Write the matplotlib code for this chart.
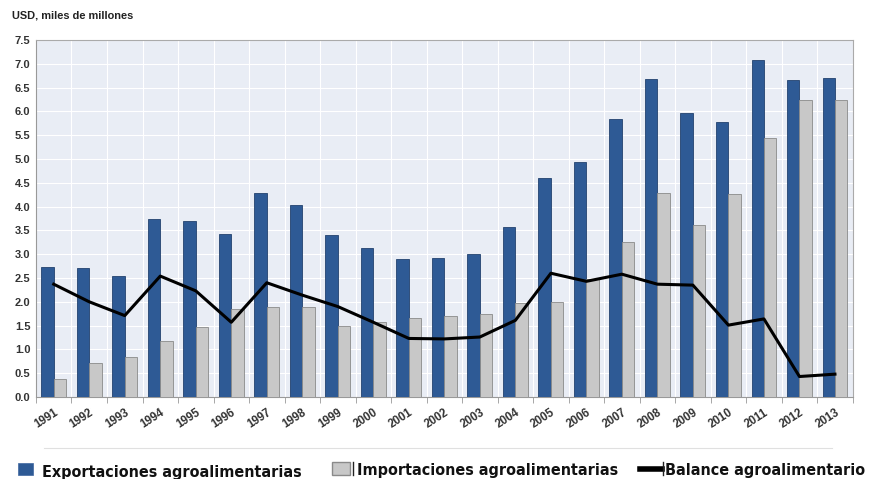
import numpy as np
import matplotlib.pyplot as plt
from matplotlib.lines import Line2D
from matplotlib.patches import Rectangle
from matplotlib import font_manager

years = [str(y) for y in range(1991, 2014)]
exportaciones = [2.73, 2.72, 2.55, 3.73, 3.69, 3.42, 4.29, 4.03, 3.40, 3.13, 2.89, 2.91,
                 3.00, 3.58, 4.60, 4.93, 5.83, 6.68, 5.97, 5.77, 7.09, 6.65, 6.70]
importaciones = [0.38, 0.72, 0.85, 1.18, 1.47, 1.84, 1.89, 1.89, 1.50, 1.57, 1.66, 1.70,
                 1.74, 1.97, 2.00, 2.47, 3.25, 4.28, 3.62, 4.26, 5.45, 6.23, 6.23]
balance = [2.37, 2.00, 1.71, 2.54, 2.23, 1.57, 2.40, 2.14, 1.90, 1.57, 1.23, 1.22,
           1.26, 1.61, 2.60, 2.43, 2.58, 2.37, 2.35, 1.51, 1.64, 0.43, 0.48]
labels = ["Exportaciones agroalimentarias", "Importaciones agroalimentarias", "Balance agroalimentario"]

blue = "#2E5A95"
grey = "#C8C8C8"

# condensed font for the legend if one is installed
names = {f.name for f in font_manager.fontManager.ttflist}
if "Liberation Sans Narrow" in names:
    leg_font = {"family": "Liberation Sans Narrow", "weight": "bold", "size": 14.8}
else:
    leg_font = {"family": "DejaVu Sans", "weight": "bold", "stretch": "condensed", "size": 11.5}

plt.rcParams["font.family"] = ["Liberation Sans", "DejaVu Sans"]

fig = plt.figure(figsize=(8.71, 4.79), dpi=100)
ax = fig.add_axes([0.0413, 0.1712, 0.9377, 0.7453])
ax.set_facecolor("#E9EDF5")

x = np.arange(len(years))
w = 0.35
b1 = ax.bar(x - w / 2, exportaciones, w, color=blue, edgecolor="#22426E", linewidth=0.6, zorder=3)
b2 = ax.bar(x + w / 2, importaciones, w, color=grey, edgecolor="#8A8A8A", linewidth=0.6, zorder=3)
ax.plot(x, balance, color="black", linewidth=2.2, zorder=4)

ax.set_xlim(-0.5, len(years) - 0.5)
ax.set_ylim(0, 7.5)
yt = np.arange(0, 7.51, 0.5)
ax.set_yticks(yt)
ax.set_yticklabels([f"{v:.1f}" for v in yt], fontsize=8, fontweight="bold", color="#333333")
ax.set_xticks(x)
ax.set_xticklabels(years, rotation=33, ha="right", rotation_mode="anchor",
                   fontsize=8.3, fontweight="bold", color="#333333")
ax.tick_params(axis="x", length=0, pad=7)
ax.tick_params(axis="y", length=0, pad=4)
ax.set_xticks(np.arange(-0.5, len(years), 1), minor=True)
ax.tick_params(axis="x", which="minor", length=4, color="#999999")

ax.grid(True, which="major", axis="y", color="white", linewidth=0.8, zorder=0)
ax.grid(True, which="minor", axis="x", color="white", linewidth=0.8, zorder=0)
for s in ["top", "right"]:
    ax.spines[s].set_color("#AAAAAA")
ax.spines["left"].set_color("#999999")
ax.spines["bottom"].set_color("#999999")

fig.text(0.014, 0.962, "USD, miles de millones", fontsize=7.9, fontweight="bold", color="#222222")

fig.add_artist(Line2D([0.05, 0.955], [0.065, 0.065], color="#E0E0E0", linewidth=0.8))

# legend drawn by hand to follow the original spacing
fig.add_artist(Rectangle((0.0207, 0.0084), 0.0172, 0.025, facecolor=blue, edgecolor="#3F66A0", lw=0.5))
fig.text(0.0482, 0.0042, labels[0], va="baseline", color="#111111", **leg_font)
fig.add_artist(Rectangle((0.381, 0.0084), 0.0207, 0.027, facecolor=grey, edgecolor="#8A8A8A", lw=1.0))
fig.add_artist(Line2D([0.405, 0.405], [0.008, 0.036], color="#222222", linewidth=1.0))
fig.text(0.410, 0.0084, labels[1], va="baseline", color="#111111", **leg_font)
fig.add_artist(Line2D([0.7348, 0.760], [0.021, 0.021], color="black", linewidth=4))
fig.add_artist(Line2D([0.7615, 0.7615], [0.008, 0.036], color="#222222", linewidth=1.0))
fig.text(0.7635, 0.0084, labels[2], va="baseline", color="#111111", **leg_font)

fig.savefig("out.png", dpi=100)
